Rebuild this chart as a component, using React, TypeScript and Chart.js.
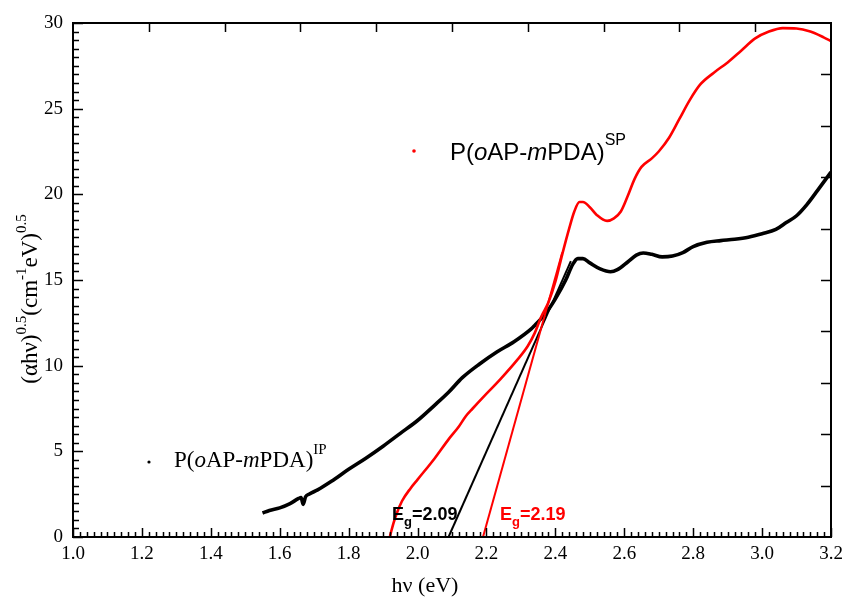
import React, { useEffect, useRef } from 'react';
import { Chart, registerables } from 'chart.js';

Chart.register(...registerables);

// P(oAP-mPDA)^IP  (black)
const ipX = [1.55, 1.57, 1.60, 1.63, 1.655, 1.662, 1.668, 1.675, 1.685, 1.71, 1.75, 1.80, 1.85, 1.90, 1.95, 2.00, 2.05, 2.09, 2.13, 2.18, 2.23, 2.28, 2.33, 2.34, 2.37, 2.40, 2.43, 2.45, 2.465, 2.48, 2.50, 2.53, 2.56, 2.58, 2.61, 2.635, 2.655, 2.68, 2.71, 2.74, 2.77, 2.80, 2.84, 2.88, 2.92, 2.96, 3.00, 3.04, 3.07, 3.10, 3.13, 3.16, 3.20];
const ipY = [1.40, 1.55, 1.70, 1.95, 2.25, 2.30, 1.90, 2.35, 2.50, 2.75, 3.25, 3.95, 4.60, 5.30, 6.05, 6.80, 7.70, 8.45, 9.30, 10.10, 10.80, 11.40, 12.15, 12.35, 13.00, 13.90, 15.00, 15.90, 16.25, 16.25, 16.00, 15.65, 15.48, 15.60, 16.05, 16.45, 16.58, 16.50, 16.35, 16.40, 16.60, 16.95, 17.20, 17.30, 17.38, 17.50, 17.70, 17.95, 18.35, 18.75, 19.40, 20.20, 21.30];

// P(oAP-mPDA)^SP  (red)
const spX = [1.92, 1.93, 1.94, 1.955, 1.98, 2.00, 2.05, 2.09, 2.12, 2.14, 2.16, 2.19, 2.24, 2.29, 2.32, 2.34, 2.36, 2.38, 2.40, 2.42, 2.44, 2.455, 2.47, 2.48, 2.50, 2.52, 2.55, 2.57, 2.59, 2.61, 2.63, 2.65, 2.68, 2.70, 2.73, 2.76, 2.79, 2.82, 2.86, 2.90, 2.94, 2.98, 3.02, 3.06, 3.10, 3.14, 3.18, 3.20];
const spY = [0.05, 0.80, 1.40, 2.10, 2.85, 3.35, 4.60, 5.70, 6.45, 7.05, 7.50, 8.15, 9.20, 10.35, 11.15, 11.90, 12.90, 13.70, 14.90, 16.50, 18.00, 19.00, 19.55, 19.55, 19.25, 18.80, 18.45, 18.60, 19.00, 19.90, 20.90, 21.60, 22.10, 22.50, 23.30, 24.40, 25.50, 26.40, 27.10, 27.70, 28.40, 29.10, 29.50, 29.70, 29.68, 29.50, 29.15, 28.95];

// Tauc fit lines
const ipFitX = [2.09, 2.445];
const ipFitY = [0, 16.1];
const spFitX = [2.19, 2.42];
const spFitY = [0, 16.6];

const xTicks = [1.0, 1.2, 1.4, 1.6, 1.8, 2.0, 2.2, 2.4, 2.6, 2.8, 3.0, 3.2];
const yTicks = [0, 5, 10, 15, 20, 25, 30];

const ipLabel = 'P(oAP-mPDA)';
const egIP = '2.09';
const egSP = '2.19';

const SERIF = "'Liberation Serif', 'Times New Roman', serif";
const SANS = "'Liberation Sans', Arial, sans-serif";

const pts = (xs: number[], ys: number[]) => xs.map((x, i) => ({ x, y: ys[i] }));

type Run = { t: string; font: string; dy?: number; color?: string };

function drawRuns(ctx: CanvasRenderingContext2D, x: number, y: number, runs: Run[]) {
  let cx = x;
  for (const r of runs) {
    ctx.font = r.font;
    ctx.fillStyle = r.color || '#000';
    ctx.fillText(r.t, cx, y + (r.dy || 0));
    cx += ctx.measureText(r.t).width;
  }
  return cx - x;
}
function measureRuns(ctx: CanvasRenderingContext2D, runs: Run[]) {
  let w = 0;
  for (const r of runs) {
    ctx.font = r.font;
    w += ctx.measureText(r.t).width;
  }
  return w;
}

const decor = {
  id: 'decor',
  afterDraw(chart: any) {
    const ctx: CanvasRenderingContext2D = chart.ctx;
    const ca = chart.chartArea;
    const xs = chart.scales.x;
    const ys = chart.scales.y;
    ctx.save();
    ctx.strokeStyle = '#000';
    ctx.lineCap = 'butt';
    // frame
    ctx.lineWidth = 2;
    ctx.strokeRect(ca.left, ca.top, ca.right - ca.left, ca.bottom - ca.top);
    ctx.lineWidth = 1.5;
    ctx.beginPath();
    // bottom ticks
    for (let i = 0; i <= 110; i++) {
      const px = Math.round(xs.getPixelForValue(1 + i * 0.02)) + 0.5;
      const len = i % 10 === 0 ? 9 : 5;
      ctx.moveTo(px, ca.bottom);
      ctx.lineTo(px, ca.bottom - len);
    }
    // left ticks
    for (let i = 0; i <= 60; i++) {
      const py = Math.round(ys.getPixelForValue(i * 0.5)) + 0.5;
      const len = i % 10 === 0 ? 10 : 6;
      ctx.moveTo(ca.left, py);
      ctx.lineTo(ca.left + len, py);
    }
    // top & right ticks (10 divisions)
    const w = ca.right - ca.left;
    const h = ca.bottom - ca.top;
    for (let i = 1; i < 10; i++) {
      const px = Math.round(ca.left + (i * w) / 10) + 0.5;
      ctx.moveTo(px, ca.top);
      ctx.lineTo(px, ca.top + 9);
      const py = Math.round(ca.top + (i * h) / 10) + 0.5;
      ctx.moveTo(ca.right, py);
      ctx.lineTo(ca.right - 10, py);
    }
    ctx.stroke();

    ctx.textBaseline = 'alphabetic';
    ctx.textAlign = 'left';
    // x title
    const xt: Run[] = [{ t: 'hν (eV)', font: `22px ${SERIF}` }];
    drawRuns(ctx, 425 - measureRuns(ctx, xt) / 2, 592, xt);

    // y title (rotated)
    const big = `23px ${SERIF}`;
    const sm = `15px ${SERIF}`;
    const yt: Run[] = [
      { t: '(αhν)', font: big },
      { t: '0.5', font: sm, dy: -11 },
      { t: '(cm', font: big },
      { t: '-1', font: sm, dy: -11 },
      { t: 'eV)', font: big },
      { t: '0.5', font: sm, dy: -11 },
    ];
    ctx.save();
    ctx.translate(37, 299);
    ctx.rotate(-Math.PI / 2);
    drawRuns(ctx, -measureRuns(ctx, yt) / 2, 0, yt);
    ctx.restore();

    // legend IP
    ctx.fillStyle = '#000';
    ctx.beginPath();
    ctx.arc(149, 462, 1.6, 0, Math.PI * 2);
    ctx.fill();
    const lf = `23px ${SERIF}`;
    const lfi = `italic 23px ${SERIF}`;
    drawRuns(ctx, 174, 467, [
      { t: 'P(', font: lf },
      { t: 'o', font: lfi },
      { t: 'AP-', font: lf },
      { t: 'm', font: lfi },
      { t: 'PDA)', font: lf },
      { t: 'IP', font: `15px ${SERIF}`, dy: -13 },
    ]);

    // legend SP
    ctx.fillStyle = '#ff0000';
    ctx.beginPath();
    ctx.arc(414, 151, 1.8, 0, Math.PI * 2);
    ctx.fill();
    const sf = `24px ${SANS}`;
    const sfi = `italic 24px ${SANS}`;
    drawRuns(ctx, 450, 160, [
      { t: 'P(', font: sf },
      { t: 'o', font: sfi },
      { t: 'AP-', font: sf },
      { t: 'm', font: sfi },
      { t: 'PDA)', font: sf },
      { t: 'SP', font: `16px ${SANS}`, dy: -15 },
    ]);

    // Eg labels
    const eb = `bold 18px ${SANS}`;
    const es = `bold 13px ${SANS}`;
    drawRuns(ctx, 392, 520, [
      { t: 'E', font: eb },
      { t: 'g', font: es, dy: 6 },
      { t: '=' + egIP, font: eb },
    ]);
    drawRuns(ctx, 500, 520, [
      { t: 'E', font: eb, color: '#ff0000' },
      { t: 'g', font: es, dy: 6, color: '#ff0000' },
      { t: '=' + egSP, font: eb, color: '#ff0000' },
    ]);
    ctx.restore();
  },
};

export default function App() {
  const ref = useRef<HTMLCanvasElement | null>(null);
  useEffect(() => {
    if (!ref.current) return;
    const chart = new Chart(ref.current, {
      type: 'scatter',
      data: {
        datasets: [
          {
            label: 'SP fit',
            data: pts(spFitX, spFitY),
            showLine: true,
            borderColor: '#ff0000',
            borderWidth: 2,
            pointRadius: 0,
            tension: 0,
          },
          {
            label: 'P(oAP-mPDA)SP',
            data: pts(spX, spY),
            showLine: true,
            borderColor: '#ff0000',
            borderWidth: 2.6,
            pointRadius: 0,
            cubicInterpolationMode: 'monotone',
          },
          {
            label: 'IP fit',
            data: pts(ipFitX, ipFitY),
            showLine: true,
            borderColor: '#000000',
            borderWidth: 2,
            pointRadius: 0,
            tension: 0,
          },
          {
            label: 'P(oAP-mPDA)IP',
            data: pts(ipX, ipY),
            showLine: true,
            borderColor: '#000000',
            borderWidth: 3.6,
            pointRadius: 0,
            cubicInterpolationMode: 'monotone',
          },
        ],
      },
      options: {
        animation: false,
        responsive: false,
        devicePixelRatio: 1,
        layout: { padding: { left: 0, top: 23, right: 14, bottom: 0 } },
        plugins: { legend: { display: false }, tooltip: { enabled: false } },
        scales: {
          x: {
            type: 'linear',
            position: 'bottom',
            min: 1,
            max: 3.2,
            grid: { display: false, drawTicks: false },
            border: { display: false },
            ticks: {
              color: '#000',
              font: { family: SERIF, size: 19 },
              padding: 6,
              maxRotation: 0,
              autoSkip: false,
              callback: (v: any) => Number(v).toFixed(1),
            },
            afterBuildTicks: (s: any) => {
              s.ticks = xTicks.map((v) => ({ value: v }));
            },
            afterFit: (s: any) => {
              s.height = 64;
              s.paddingLeft = 0;
              s.paddingRight = 0;
            },
          },
          y: {
            type: 'linear',
            position: 'left',
            min: 0,
            max: 30,
            grid: { display: false, drawTicks: false },
            border: { display: false },
            ticks: {
              color: '#000',
              font: { family: SERIF, size: 19 },
              padding: 10,
              callback: (v: any) => String(v),
            },
            afterBuildTicks: (s: any) => {
              s.ticks = yTicks.map((v) => ({ value: v }));
            },
            afterFit: (s: any) => {
              s.width = 73;
              s.paddingTop = 0;
              s.paddingBottom = 0;
            },
          },
        },
      } as any,
      plugins: [decor],
    });
    return () => chart.destroy();
  }, []);
  return (
    <canvas
      ref={ref}
      width={845}
      height={601}
      style={{ position: 'fixed', left: 0, top: 0, width: 845, height: 601, background: '#fff' }}
    />
  );
}
